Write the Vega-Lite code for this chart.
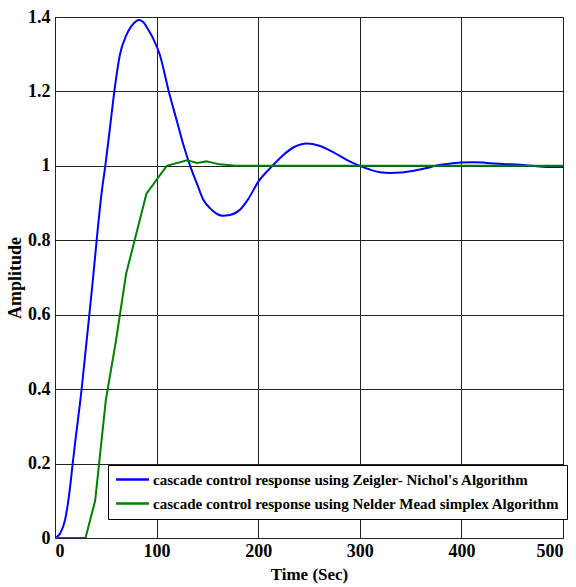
{
  "$schema": "https://vega.github.io/schema/vega-lite/v6.json",
  "width": 508,
  "height": 521,
  "autosize": "none",
  "padding": {"left": 55, "top": 17, "right": 13, "bottom": 49},
  "background": "white",
  "config": {
    "view": {"stroke": "black", "strokeWidth": 1},
    "font": "Liberation Serif"
  },
  "datasets": {
    "zn": [
      {"t": 0, "a": 0}, {"t": 2, "a": 0.003}, {"t": 5, "a": 0.012}, {"t": 10, "a": 0.05}, {"t": 15, "a": 0.14},
      {"t": 17.4, "a": 0.2}, {"t": 20, "a": 0.26}, {"t": 26.2, "a": 0.4}, {"t": 30, "a": 0.5},
      {"t": 33.8, "a": 0.6}, {"t": 37.5, "a": 0.7}, {"t": 41, "a": 0.8}, {"t": 46, "a": 0.93},
      {"t": 49.5, "a": 1.0}, {"t": 54, "a": 1.1}, {"t": 58.4, "a": 1.2}, {"t": 64, "a": 1.3},
      {"t": 70, "a": 1.35}, {"t": 75, "a": 1.375}, {"t": 80, "a": 1.389}, {"t": 83, "a": 1.392},
      {"t": 87, "a": 1.386}, {"t": 92, "a": 1.365}, {"t": 97, "a": 1.34}, {"t": 103, "a": 1.3},
      {"t": 112, "a": 1.2}, {"t": 120, "a": 1.12}, {"t": 126, "a": 1.06}, {"t": 133, "a": 1.0},
      {"t": 140, "a": 0.95}, {"t": 146, "a": 0.909}, {"t": 153, "a": 0.885}, {"t": 160, "a": 0.87},
      {"t": 165, "a": 0.866}, {"t": 172, "a": 0.868}, {"t": 182, "a": 0.882}, {"t": 190, "a": 0.91},
      {"t": 200, "a": 0.957}, {"t": 214, "a": 1.0}, {"t": 225, "a": 1.03}, {"t": 235, "a": 1.05},
      {"t": 248, "a": 1.06}, {"t": 260, "a": 1.054}, {"t": 275, "a": 1.035}, {"t": 290, "a": 1.012},
      {"t": 300, "a": 1.0}, {"t": 310, "a": 0.99}, {"t": 320, "a": 0.983}, {"t": 330, "a": 0.981},
      {"t": 340, "a": 0.982}, {"t": 353, "a": 0.987}, {"t": 366, "a": 0.994}, {"t": 374, "a": 1.0},
      {"t": 386, "a": 1.005}, {"t": 399, "a": 1.009}, {"t": 412, "a": 1.01}, {"t": 425, "a": 1.008},
      {"t": 441, "a": 1.005}, {"t": 458, "a": 1.003}, {"t": 470, "a": 1.0}, {"t": 484, "a": 0.997},
      {"t": 500, "a": 0.997}
    ],
    "nm": [
      {"t": 0, "a": 0}, {"t": 30, "a": 0}, {"t": 39.5, "a": 0.1}, {"t": 50, "a": 0.37},
      {"t": 60, "a": 0.53}, {"t": 70, "a": 0.71}, {"t": 90, "a": 0.925}, {"t": 110, "a": 1.0},
      {"t": 130, "a": 1.015}, {"t": 140, "a": 1.008}, {"t": 149, "a": 1.012}, {"t": 162, "a": 1.004},
      {"t": 178, "a": 1.0}, {"t": 500, "a": 1.0}
    ]
  },
  "layer": [
    {
      "data": {"name": "zn"},
      "transform": [{"calculate": "'cascade control response using Zeigler- Nichol\\'s Algorithm'", "as": "s"}],
      "mark": {"type": "line", "strokeWidth": 2, "clip": true, "interpolate": "monotone"},
      "encoding": {
        "x": {"field": "t", "type": "quantitative"},
        "y": {"field": "a", "type": "quantitative"},
        "color": {"field": "s", "type": "nominal"}
      }
    },
    {
      "data": {"name": "nm"},
      "transform": [{"calculate": "'cascade control response using Nelder Mead simplex Algorithm'", "as": "s"}],
      "mark": {"type": "line", "strokeWidth": 2, "clip": true},
      "encoding": {
        "x": {
          "field": "t", "type": "quantitative",
          "scale": {"domain": [0, 500], "nice": false},
          "axis": {
            "title": "Time (Sec)", "values": [0, 100, 200, 300, 400, 500],
            "grid": true, "gridColor": "#222", "gridOpacity": 1, "gridWidth": 1,
            "domain": false, "ticks": false, "labelPadding": 4,
            "labelFont": "Liberation Serif", "labelFontSize": 18, "labelFontWeight": "bold", "labelColor": "black",
            "titleFont": "Liberation Serif", "titleFontSize": 17, "titleFontWeight": "bold", "titleColor": "black",
            "titlePadding": 6
          }
        },
        "y": {
          "field": "a", "type": "quantitative",
          "scale": {"domain": [0, 1.4], "nice": false},
          "axis": {
            "title": "Amplitude", "values": [0, 0.2, 0.4, 0.6, 0.8, 1, 1.2, 1.4], "format": "~g",
            "grid": true, "gridColor": "#222", "gridOpacity": 1, "gridWidth": 1,
            "domain": false, "ticks": false, "labelPadding": 5,
            "labelFont": "Liberation Serif", "labelFontSize": 18, "labelFontWeight": "bold", "labelColor": "black",
            "titleFont": "Liberation Serif", "titleFontSize": 18, "titleFontWeight": "bold", "titleColor": "black",
            "titlePadding": 3
          }
        },
        "color": {
          "field": "s", "type": "nominal",
          "scale": {
            "domain": ["cascade control response using Zeigler- Nichol's Algorithm", "cascade control response using Nelder Mead simplex Algorithm"],
            "range": ["#0000FF", "#008000"]
          },
          "legend": {
            "title": null, "orient": "none", "legendX": 53, "legendY": 448,
            "strokeColor": "black", "fillColor": "white", "padding": 7,
            "symbolType": "M-2.75,0H2.75", "symbolSize": 144, "symbolStrokeWidth": 2.5, "symbolOffset": 10,
            "labelFont": "Liberation Serif", "labelFontSize": 15, "labelFontWeight": "bold", "labelColor": "black",
            "labelLimit": 600, "rowPadding": 8, "labelOffset": 13
          }
        }
      }
    }
  ]
}
